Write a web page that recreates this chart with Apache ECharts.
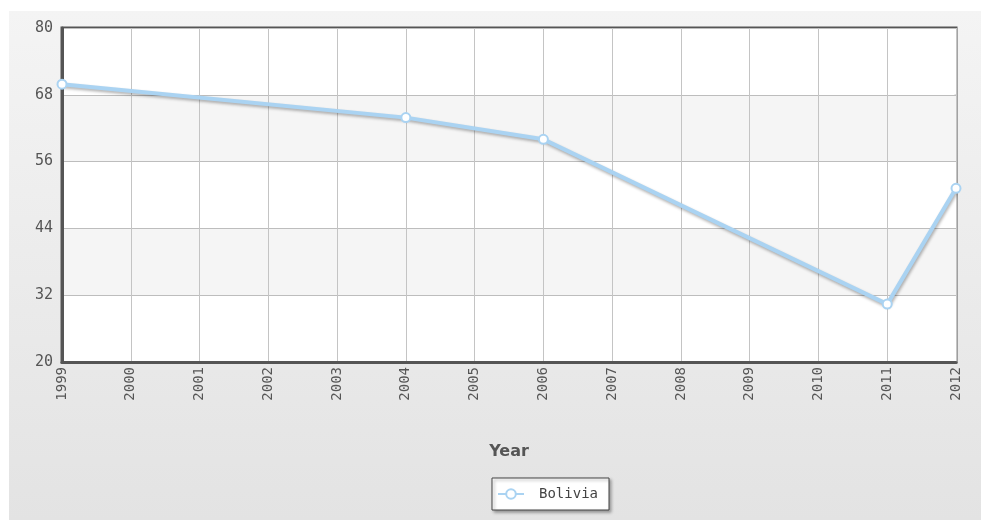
<!DOCTYPE html>
<html><head><meta charset="utf-8">
<script src="https://cdn.jsdelivr.net/npm/echarts@6/dist/echarts.min.js"></script>
<style>html,body{margin:0;padding:0;background:#fff}#c{width:981px;height:520px}</style>
</head><body><div id="c"></div>
<script>
const years = ['1999','2000','2001','2002','2003','2004','2005','2006','2007','2008','2009','2010','2011','2012'];
const bolivia = [69.9, null, null, null, null, 63.9, null, 60.0, null, null, null, null, 30.4, 51.2];
const yTicks = [20, 32, 44, 56, 68, 80];

const chart = echarts.init(document.getElementById('c'));
const mono = 'DejaVu Sans Mono';
chart.setOption({
  animation: false,
  graphic: [{
    type: 'rect', z: -10, silent: true,
    shape: {x: 9, y: 11, width: 972, height: 509},
    style: {fill: new echarts.graphic.LinearGradient(0, 0, 0, 1, [
      {offset: 0, color: '#f4f4f4'}, {offset: 1, color: '#e3e3e3'}])}
  }],
  grid: {left: 62, right: 25, top: 28, bottom: 158, show: true, borderColor: '#555', borderWidth: 3, backgroundColor: '#fff'},
  xAxis: {
    type: 'category', data: years, boundaryGap: false,
    name: 'Year', nameLocation: 'middle', nameGap: 82,
    nameTextStyle: {fontFamily: 'DejaVu Sans', fontWeight: 'bold', fontSize: 16, color: '#555'},
    axisLine: {show: true, lineStyle: {color: '#555', width: 3}},
    axisTick: {show: false},
    axisLabel: {rotate: 90, fontFamily: mono, fontSize: 14, color: '#555', margin: 5},
    splitLine: {show: true, lineStyle: {color: '#c4c4c4', width: 1}}
  },
  yAxis: {
    type: 'value', min: yTicks[0], max: yTicks[yTicks.length - 1], interval: 12,
    axisLine: {show: true, lineStyle: {color: '#555', width: 3}},
    axisTick: {show: false},
    axisLabel: {fontFamily: mono, fontSize: 15, color: '#555', margin: 9},
    splitLine: {show: true, lineStyle: {color: '#bdbdbd', width: 1}},
    splitArea: {show: true, areaStyle: {color: ['#ffffff', '#f5f5f5']}}
  },
  legend: {
    data: ['Bolivia'], left: 492, top: 478,
    backgroundColor: '#fff', borderColor: '#444', borderWidth: 1,
    padding: [9, 11, 9, 5], itemWidth: 26, itemHeight: 12, itemGap: 10,
    shadowColor: 'rgba(0,0,0,0.35)', shadowBlur: 3, shadowOffsetX: 2, shadowOffsetY: 2,
    textStyle: {fontFamily: mono, fontSize: 14, color: '#444', padding: [0,0,0,10]}
  },
  series: [{
    name: 'Bolivia', type: 'line', data: bolivia, connectNulls: true,
    symbol: 'circle', symbolSize: 9,
    itemStyle: {color: '#fff', borderColor: '#aad3f2', borderWidth: 2},
    lineStyle: {color: '#aad3f2', width: 4, shadowColor: 'rgba(0,0,0,0.3)', shadowBlur: 3, shadowOffsetX: 1, shadowOffsetY: 2},
    z: 5
  }]
});
</script></body></html>
